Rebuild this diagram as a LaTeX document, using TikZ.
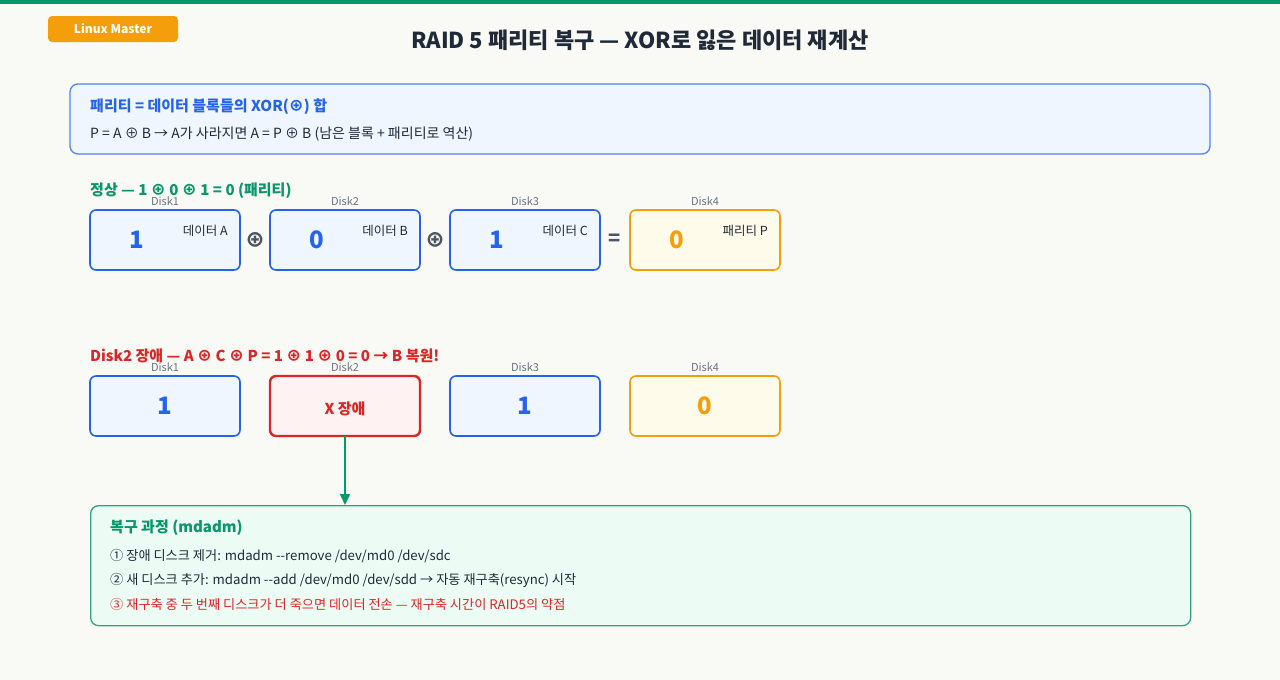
\documentclass[tikz,border=0pt]{standalone}
\usepackage{fontspec}
\setmainfont{Noto Sans CJK KR}
\usetikzlibrary{positioning,arrows.meta}
\definecolor{lmPage}   {HTML}{F9F9F5}
\definecolor{lmGreen}  {HTML}{08966A}
\definecolor{lmGreenBg}{HTML}{ECFBF3}
\definecolor{lmBlue}   {HTML}{2563EB}
\definecolor{lmBlueBg} {HTML}{EFF6FF}
\definecolor{lmOrange} {HTML}{F59E0B}
\definecolor{lmOrangeBg}{HTML}{FFFBEB}
\definecolor{lmRed}    {HTML}{DC2626}
\definecolor{lmRedBg}  {HTML}{FEF2F2}
\definecolor{lmInk}    {HTML}{1F2937}
\definecolor{lmGray}   {HTML}{6B7280}
\definecolor{lmOp}     {HTML}{4B5563}
\newcommand{\fs}[1]{\fontsize{#1}{#1}\selectfont}

\begin{document}
\begin{tikzpicture}
[x=1pt, y=-1pt, >=Stealth,
  disk/.style    = { draw = lmBlue, fill = lmBlueBg, line width = 1.6pt, rounded corners = 6pt,
                     minimum width = 150pt, minimum height = 60pt, inner sep = 0pt, outer sep = 0pt },
  parity/.style  = { disk, draw = lmOrange, fill = lmOrangeBg },
  failed/.style  = { disk, draw = lmRed, fill = lmRedBg, line width = 2.4pt },
  disklabel/.style = { text = lmGray, font = \fs{11}, inner sep = 4.5pt },
  bignum/.style  = { text = lmBlue, font = \fs{24}\bfseries },
  blocktag/.style = { text = lmInk, font = \fs{12.5}, anchor = east, inner sep = 0pt },
  xorop/.style   = { text = lmOp, font = \fs{20}\bfseries },
  heading/.style = { font = \fs{15}\bfseries, anchor = west, inner sep = 0pt },
  textline/.style = { text = lmInk, font = \fs{13.2}, anchor = west, inner sep = 0pt }
]

% Page:
\fill[lmPage] (0,0) rectangle (1280,680);
\useasboundingbox (0,0) rectangle (1280,680);
\fill[lmGreen] (0,0) rectangle (1280,4);

% Badge and title:
\node[fill = lmOrange, rounded corners = 4pt, minimum width = 130pt, minimum height = 26pt,
      text = white, font = \fs{12}\bfseries] (badge) at (113,29) {Linux Master};
\node[text = lmInk, font = \fs{22}\bfseries] (title) at (640,40)
  {RAID 5 패리티 복구 — XOR로 잃은 데이터 재계산};

% Info box:
\draw[draw = lmBlue!80, fill = lmBlueBg, line width = 1.3pt, rounded corners = 8pt] (70,84) rectangle (1210,154);
\node[heading, text = lmBlue] (info1) at (90,107) {패리티 = 데이터 블록들의 XOR(⊕) 합};
\node[textline, font = \fs{14}] (info2) at (90,134)
  {P = A ⊕ B → A가 사라지면 A = P ⊕ B (남은 블록 + 패리티로 역산)};

% Normal state:
\node[heading, text = lmGreen] (okhead) at (90,191) {정상 — 1 ⊕ 0 ⊕ 1 = 0 (패리티)};

\node[disk, label = {[disklabel]above:Disk1}] (a1) at (165,240) {};
\node[disk, label = {[disklabel]above:Disk2}, right = 30pt of a1] (a2) {};
\node[disk, label = {[disklabel]above:Disk3}, right = 30pt of a2] (a3) {};
\node[parity, label = {[disklabel]above:Disk4}, right = 30pt of a3] (a4) {};

\node[bignum] (n1) at ([xshift=-28pt]a1.center) {1};
\node[bignum] (n2) at ([xshift=-28pt]a2.center) {0};
\node[bignum] (n3) at ([xshift=-28pt]a3.center) {1};
\node[bignum, text = lmOrange] (n4) at ([xshift=-28pt]a4.center) {0};

\node[blocktag] (t1) at ([xshift=-12pt,yshift=-21pt]a1.north east) {데이터 A};
\node[blocktag] (t2) at ([xshift=-12pt,yshift=-21pt]a2.north east) {데이터 B};
\node[blocktag] (t3) at ([xshift=-12pt,yshift=-21pt]a3.north east) {데이터 C};
\node[blocktag] (t4) at ([xshift=-12pt,yshift=-21pt]a4.north east) {패리티 P};

\node[xorop] (op1) at (255,240) {⊕};
\node[xorop] (op2) at (435,240) {⊕};
\node[xorop] (op3) at (615,240) {=};

% Failed state:
\node[heading, text = lmRed] (badhead) at (90,356)
  {Disk2 장애 — A ⊕ C ⊕ P = 1 ⊕ 1 ⊕ 0 = 0 → B 복원!};

\node[disk, label = {[disklabel]above:Disk1}] (f1) at (165,406) {};
\node[failed, label = {[disklabel]above:Disk2}, right = 30pt of f1] (f2) {};
\node[disk, label = {[disklabel]above:Disk3}, right = 30pt of f2] (f3) {};
\node[parity, label = {[disklabel]above:Disk4}, right = 30pt of f3] (f4) {};

\node[bignum] (m1) at (f1.center) {1};
\node[text = lmRed, font = \fs{15}\bfseries] (m2) at ([yshift=-3pt]f2.center) {X 장애};
\node[bignum] (m3) at (f3.center) {1};
\node[bignum, text = lmOrange] (m4) at (f4.center) {0};

% Recovery steps:
\node[draw = lmGreen!85, fill = lmGreenBg, line width = 1.3pt, rounded corners = 8pt,
      minimum width = 1100pt, minimum height = 120pt, anchor = north west] (steps) at (90,505) {};
\draw[lmGreen, line width = 1.5pt, -{Triangle[length=11pt, width=10pt]}] (f2.south) -- (f2.south |- steps.north);

\node[heading, text = lmGreen] (stephead) at (110,528) {복구 과정 (mdadm)};
\node[textline] (s1) at (110,556) {① 장애 디스크 제거: mdadm -{}-remove /dev/md0 /dev/sdc};
\node[textline] (s2) at (110,580) {② 새 디스크 추가: mdadm -{}-add /dev/md0 /dev/sdd → 자동 재구축(resync) 시작};
\node[textline, text = lmRed] (s3) at (110,604)
  {③ 재구축 중 두 번째 디스크가 더 죽으면 데이터 전손 — 재구축 시간이 RAID5의 약점};
\end{tikzpicture}
\end{document}
